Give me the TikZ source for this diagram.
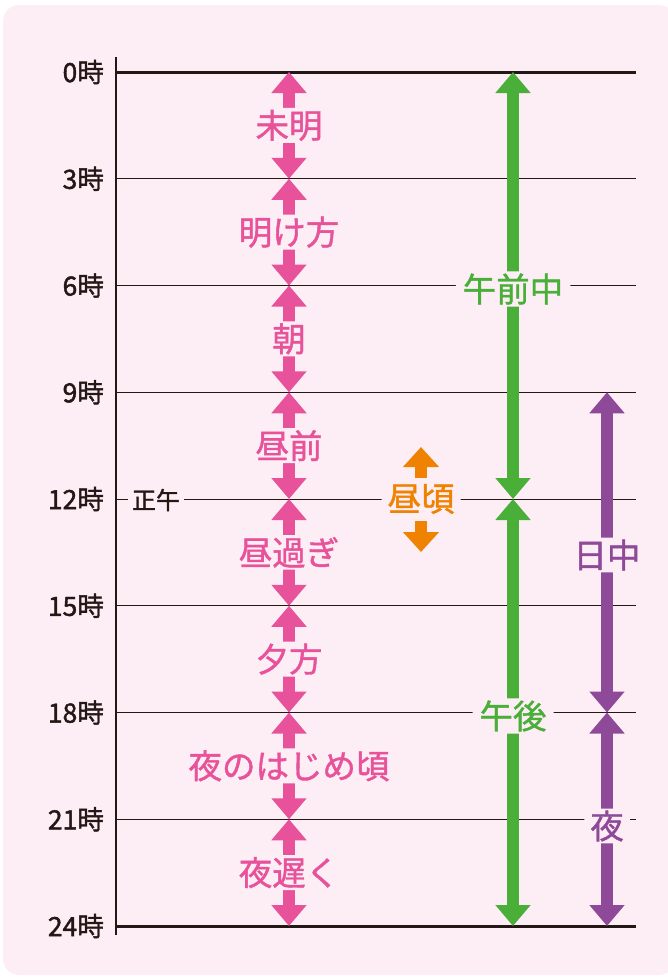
\documentclass[tikz,border=0pt]{standalone}
\usepackage{fontspec}
\newfontfamily\jp[FakeBold=1.2]{Noto Sans CJK JP}
\newfontfamily\jph[FakeBold=1.5]{Noto Sans CJK JP}
\usetikzlibrary{arrows.meta}
\definecolor{bg}{HTML}{FDEEF5}
\definecolor{ink}{HTML}{231815}
\definecolor{cpink}{HTML}{E8529A}
\definecolor{cgreen}{HTML}{4AAF38}
\definecolor{cpurple}{HTML}{8E4A99}
\definecolor{corange}{HTML}{EF8200}
\begin{document}
\begin{tikzpicture}[x=1pt,y=-1pt,
  hourlab/.style={anchor=east, font=\jph\fontsize{26.5}{27}\selectfont, text=ink, inner sep=0pt},
  thinline/.style={draw=ink, line width=1pt},
  thickline/.style={draw=ink, line width=3pt},
  band/.style={line width=12pt, {Triangle[width=34pt,length=21pt]}-{Triangle[width=34pt,length=21pt]}},
  oneway/.style={line width=12pt, -{Triangle[width=35pt,length=20pt]}},
  lab/.style={font=\jp\fontsize{33.5}{34}\selectfont, fill=bg, inner xsep=4pt, inner ysep=2pt, rounded corners=5pt},
]
\useasboundingbox (0,0) rectangle (667,977);
\fill[white] (0,0) rectangle (667,977);
\fill[bg, rounded corners=16pt] (3,5) rectangle (675,975);

\foreach \i in {0,...,8} {
  \pgfmathsetmacro\yy{72+106.75*\i}
  \pgfmathtruncatemacro\hh{3*\i}
  \coordinate (L\i) at (116,\yy);
  \coordinate (R\i) at (636,\yy);
  \coordinate (P\i) at (289,\yy);
  \coordinate (G\i) at (513,\yy);
  \coordinate (U\i) at (607,\yy);
  \node[hourlab] (t\i) at (104,\yy) {\hh 時};
}
\foreach \i in {1,...,7} { \draw[thinline] (L\i) -- (R\i); }
\draw[thickline] (L0) -- (R0);
\draw[thickline] (L8) -- (R8);
\coordinate (axtop) at (116,57);
\coordinate (axbot) at (116,935);
\draw[ink, line width=1.5pt] (axtop) -- (axbot);

\node[font=\jph\fontsize{24}{24}\selectfont, text=ink, fill=bg, inner xsep=4pt, inner ysep=1pt] (noon) at (156,500) {正午};

\foreach \i/\t in {0/未明,1/明け方,2/朝,3/昼前,4/昼過ぎ,5/夕方,6/夜のはじめ頃,7/夜遅く} {
  \pgfmathtruncatemacro\j{\i+1}
  \draw[band, cpink] (P\i) -- node[lab, text=cpink] (pl\i) {\t} (P\j);
}

\draw[band, cgreen] (G0) -- (G4);
\draw[band, cgreen] (G4) -- (G8);
\node[lab, text=cgreen, inner xsep=7pt] (am) at (513,289) {午前中};
\node[lab, text=cgreen, inner xsep=7pt] (pm) at (513,716) {午後};

\draw[band, cpurple] (U3) -- (U6);
\draw[band, cpurple] (U6) -- (U8);
\node[lab, text=cpurple] (day) at (607,555) {日中};
\node[lab, text=cpurple, inner xsep=6pt] (night) at (607,826) {夜};

\coordinate (o1) at (421,478);
\coordinate (o2) at (421,447);
\coordinate (o3) at (421,521);
\coordinate (o4) at (421,552);
\draw[oneway, corange] (o1) -- (o2);
\draw[oneway, corange] (o3) -- (o4);
\node[lab, text=corange, inner xsep=6pt] (noonish) at (421,499) {昼頃};
\end{tikzpicture}
\end{document}
